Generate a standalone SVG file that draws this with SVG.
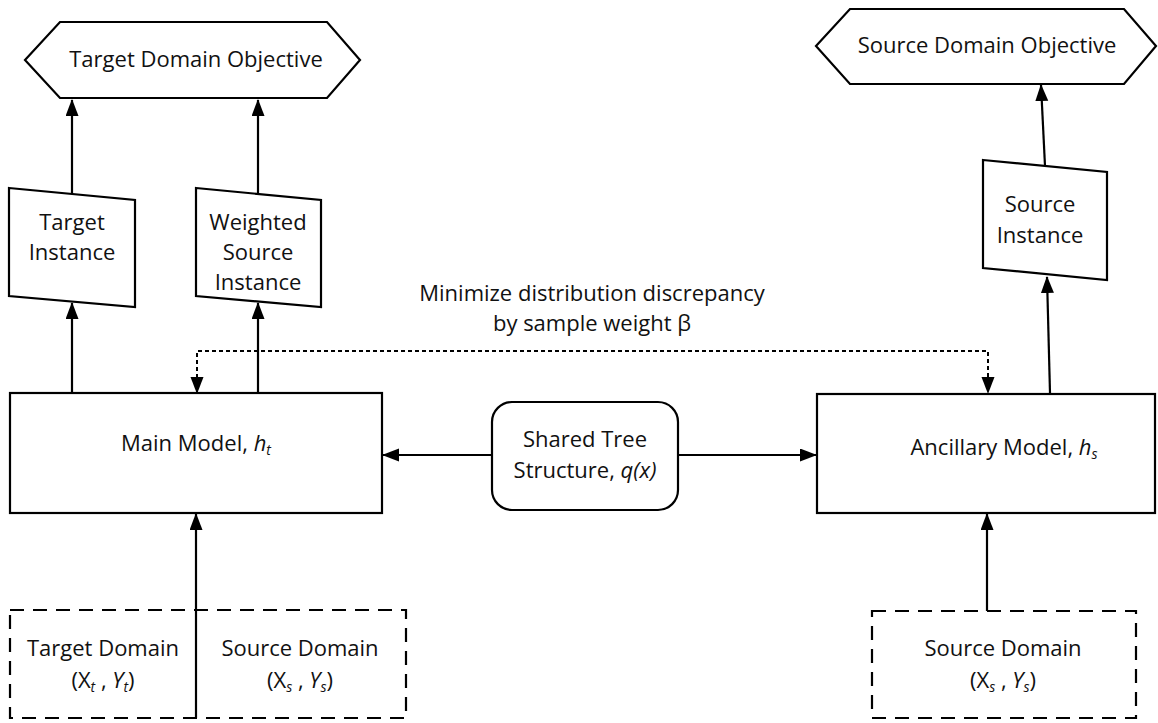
<svg xmlns="http://www.w3.org/2000/svg" width="1158" height="723" viewBox="0 0 1158 723">
  <style>
    .shape { fill: #ffffff; stroke: #000000; stroke-width: 2.2; }
    .dashbox { fill: none; stroke: #000000; stroke-width: 2.2; stroke-dasharray: 14 9; }
    .wire { fill: none; stroke: #000000; stroke-width: 2.2; }
    .dotted { fill: none; stroke: #000000; stroke-width: 2; stroke-dasharray: 4 3; }
    text { font-family: "Open Sans", "Liberation Sans", sans-serif; font-size: 22px; fill: #111111; text-anchor: middle; }
    .it { font-style: italic; }
    .sub { font-size: 14px; font-style: italic; }
  </style>
  <defs>
    <marker id="arrow" markerUnits="userSpaceOnUse" markerWidth="18" markerHeight="14" refX="16" refY="6.5" orient="auto">
      <path d="M0,0 L17,6.5 L0,13 z" fill="#000000"/>
    </marker>
  </defs>

  <rect width="1158" height="723" fill="#ffffff"/>

  <!-- connectors -->
  <g id="connectors">
    <line class="wire" x1="72" y1="194" x2="72" y2="100" marker-end="url(#arrow)"/>
    <line class="wire" x1="258" y1="194" x2="258" y2="100" marker-end="url(#arrow)"/>
    <line class="wire" x1="72" y1="393" x2="72" y2="303" marker-end="url(#arrow)"/>
    <line class="wire" x1="258" y1="393" x2="258" y2="303" marker-end="url(#arrow)"/>
    <line class="wire" x1="1050" y1="393" x2="1047" y2="277" marker-end="url(#arrow)"/>
    <line class="wire" x1="1045" y1="166" x2="1041" y2="85" marker-end="url(#arrow)"/>
    <polyline class="dotted" points="197,392 197,351 988,351 988,392"/>
    <line x1="197" y1="370" x2="197" y2="393" stroke="none" marker-end="url(#arrow)"/>
    <line x1="988" y1="370" x2="988" y2="393" stroke="none" marker-end="url(#arrow)"/>
    <line class="wire" x1="492" y1="455" x2="383" y2="455" marker-end="url(#arrow)"/>
    <line class="wire" x1="678" y1="455" x2="816" y2="455" marker-end="url(#arrow)"/>
    <line class="wire" x1="196" y1="718" x2="196" y2="514" marker-end="url(#arrow)"/>
    <line class="wire" x1="987" y1="611" x2="987" y2="514" marker-end="url(#arrow)"/>
    <text x="592" y="301">Minimize distribution discrepancy</text>
    <text x="592" y="331">by sample weight β</text>
  </g>

  <!-- objectives -->
  <g id="target-objective">
    <polygon class="shape" points="25,60 60,22 327,22 360,60 327,98 60,98"/>
    <text x="196" y="67">Target Domain Objective</text>
  </g>
  <g id="source-objective">
    <polygon class="shape" points="816,46 850,9 1124,9 1156,46 1124,84 850,84"/>
    <text x="987" y="53">Source Domain Objective</text>
  </g>

  <!-- instances -->
  <g id="target-instance">
    <polygon class="shape" points="9,188 135,200 135,307 9,296"/>
    <text x="72" y="230">Target</text>
    <text x="72" y="260">Instance</text>
  </g>
  <g id="weighted-source-instance">
    <polygon class="shape" points="196,188 321,200 321,307 196,296"/>
    <text x="258" y="230">Weighted</text>
    <text x="258" y="260">Source</text>
    <text x="258" y="290">Instance</text>
  </g>
  <g id="source-instance">
    <polygon class="shape" points="983,160 1107,172 1107,280 983,268"/>
    <text x="1040" y="212">Source</text>
    <text x="1040" y="243">Instance</text>
  </g>

  <!-- models -->
  <g id="main-model">
    <rect class="shape" x="10" y="393" width="372" height="120"/>
    <text x="196" y="451">Main Model, <tspan class="it">h</tspan><tspan class="sub" dy="4">t</tspan></text>
  </g>
  <g id="shared-tree">
    <rect class="shape" x="492" y="402" width="186" height="108" rx="20" ry="20"/>
    <text x="585" y="447">Shared Tree</text>
    <text x="585" y="478">Structure, <tspan class="it">q(x)</tspan></text>
  </g>
  <g id="ancillary-model">
    <rect class="shape" x="817" y="394" width="338" height="119"/>
    <text x="1004" y="455">Ancillary Model, <tspan class="it">h</tspan><tspan class="sub" dy="4">s</tspan></text>
  </g>

  <!-- data domains -->
  <g id="left-domains">
    <rect class="dashbox" x="10" y="610" width="396" height="108"/>
    <text x="103" y="656">Target Domain</text>
    <text x="103" y="688">(X<tspan class="sub" dy="4">t</tspan><tspan dy="-4"> , </tspan><tspan class="it">Y</tspan><tspan class="sub" dy="4">t</tspan><tspan dy="-4">)</tspan></text>
    <text x="300" y="656">Source Domain</text>
    <text x="300" y="688">(X<tspan class="sub" dy="4">s</tspan><tspan dy="-4"> , </tspan><tspan class="it">Y</tspan><tspan class="sub" dy="4">s</tspan><tspan dy="-4">)</tspan></text>
  </g>
  <g id="right-domain">
    <rect class="dashbox" x="872" y="611" width="264" height="107"/>
    <text x="1003" y="656">Source Domain</text>
    <text x="1003" y="688">(X<tspan class="sub" dy="4">s</tspan><tspan dy="-4"> , </tspan><tspan class="it">Y</tspan><tspan class="sub" dy="4">s</tspan><tspan dy="-4">)</tspan></text>
  </g>
</svg>
